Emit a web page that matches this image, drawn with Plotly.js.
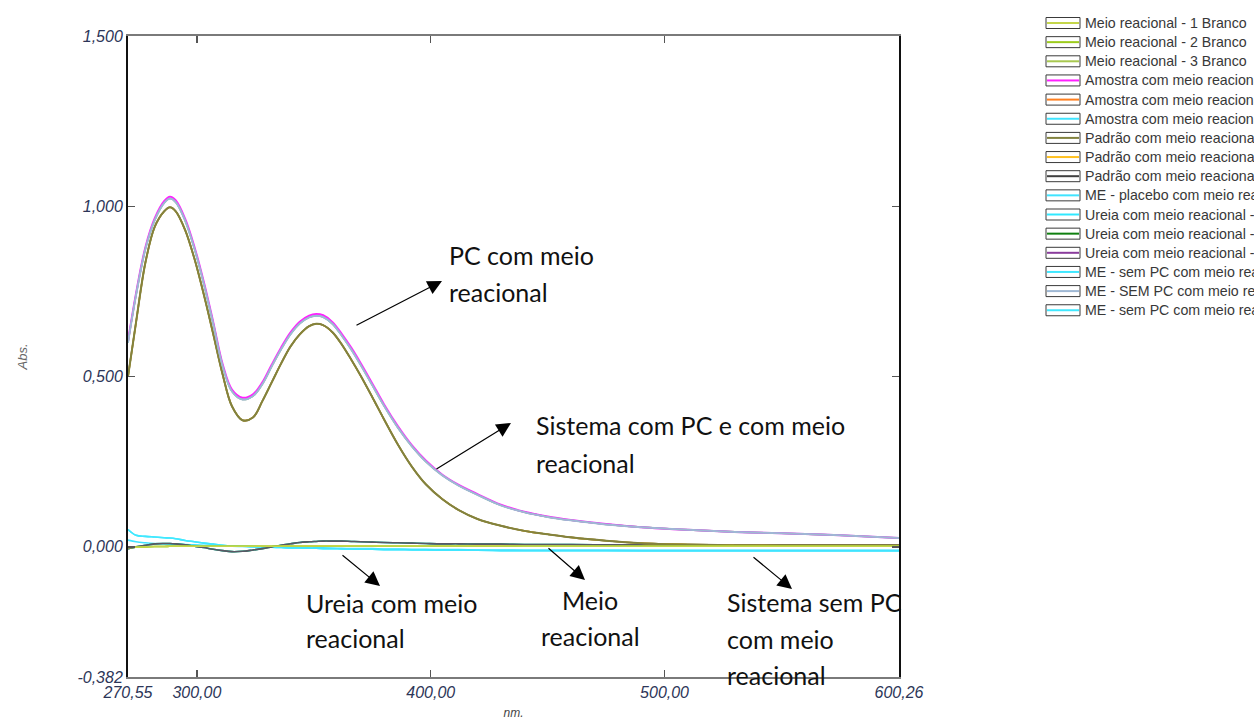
<!DOCTYPE html>
<html>
<head>
<meta charset="utf-8">
<script src="https://cdn.plot.ly/plotly-3.0.1.min.js"></script>
<style>
  html, body { margin: 0; padding: 0; background: #ffffff; overflow: hidden; }
  #chart { width: 1254px; height: 720px; }
</style>
</head>
<body>
<div id="chart"></div>
<script>
// Wavelength grid (nm)
const wavelength = [270.55, 274, 278, 282, 286, 288.5, 291, 295, 299, 303, 307, 311, 315, 319.5, 324, 328,
  332, 336, 340, 344, 348, 351, 354, 358, 362, 366, 370, 375, 380, 386, 392, 398, 405, 412, 420, 430,
  440, 450, 460, 475, 490, 510, 530, 550, 575, 600.26];

// Absorbance readings
const amostra = [0.600, 0.740, 0.875, 0.960, 1.010, 1.023, 1.012, 0.958, 0.875, 0.772, 0.655, 0.532, 0.457,
  0.433, 0.443, 0.478, 0.530, 0.580, 0.624, 0.656, 0.674, 0.679, 0.675, 0.655, 0.620, 0.580, 0.535, 0.475,
  0.415, 0.350, 0.295, 0.250, 0.210, 0.180, 0.153, 0.122, 0.102, 0.088, 0.078, 0.066, 0.058, 0.050, 0.044,
  0.040, 0.034, 0.026];
const amostraTopo = [0.604, 0.745, 0.880, 0.965, 1.015, 1.028, 1.017, 0.963, 0.880, 0.777, 0.660, 0.537, 0.462,
  0.438, 0.448, 0.483, 0.535, 0.585, 0.629, 0.661, 0.679, 0.684, 0.680, 0.660, 0.625, 0.585, 0.540, 0.480,
  0.419, 0.354, 0.298, 0.253, 0.212, 0.182, 0.155, 0.124, 0.103, 0.089, 0.079, 0.067, 0.058, 0.050, 0.044,
  0.040, 0.034, 0.026];
const padrao = [0.500, 0.660, 0.835, 0.940, 0.985, 0.997, 0.985, 0.930, 0.845, 0.740, 0.625, 0.507, 0.413,
  0.372, 0.380, 0.428, 0.483, 0.538, 0.588, 0.624, 0.648, 0.655, 0.651, 0.630, 0.594, 0.550, 0.503, 0.440,
  0.375, 0.300, 0.235, 0.183, 0.140, 0.108, 0.082, 0.062, 0.047, 0.037, 0.028, 0.018, 0.011, 0.007, 0.005,
  0.004, 0.004, 0.004];
const meio = [-0.002, -0.001, 0.000, 0.001, 0.001, 0.002, 0.002, 0.002, 0.002, 0.002, 0.002, 0.002, 0.002,
  0.002, 0.002, 0.002, 0.002, 0.002, 0.003, 0.003, 0.003, 0.003, 0.003, 0.003, 0.003, 0.003, 0.003, 0.003,
  0.003, 0.003, 0.003, 0.003, 0.003, 0.003, 0.003, 0.003, 0.002, 0.002, 0.002, 0.002, 0.002, 0.002, 0.002,
  0.002, 0.002, 0.002];
const ureia = [-0.005, 0.000, 0.005, 0.009, 0.010, 0.010, 0.009, 0.006, 0.002, -0.002, -0.007, -0.011, -0.014,
  -0.013, -0.009, -0.005, 0.000, 0.005, 0.009, 0.013, 0.015, 0.016, 0.017, 0.017, 0.017, 0.016, 0.015, 0.014,
  0.013, 0.012, 0.011, 0.010, 0.009, 0.009, 0.008, 0.008, 0.007, 0.007, 0.007, 0.006, 0.006, 0.006, 0.006,
  0.006, 0.006, 0.006];
const placebo = [0.020, 0.015, 0.012, 0.010, 0.009, 0.008, 0.008, 0.007, 0.006, 0.005, 0.004, 0.003, 0.002,
  0.001, 0.000, 0.000, -0.001, -0.001, -0.002, -0.002, -0.003, -0.003, -0.003, -0.004, -0.004, -0.005, -0.005,
  -0.005, -0.006, -0.006, -0.007, -0.007, -0.008, -0.008, -0.009, -0.009, -0.010, -0.010, -0.010, -0.010,
  -0.011, -0.011, -0.011, -0.011, -0.011, -0.011];
const semPC = [0.051, 0.034, 0.031, 0.029, 0.027, 0.026, 0.024, 0.019, 0.015, 0.011, 0.008, 0.005, 0.003,
  0.002, 0.001, 0.000, -0.001, -0.002, -0.003, -0.003, -0.004, -0.004, -0.005, -0.005, -0.006, -0.006, -0.007,
  -0.007, -0.008, -0.008, -0.009, -0.009, -0.010, -0.010, -0.010, -0.011, -0.011, -0.011, -0.011, -0.011,
  -0.011, -0.011, -0.011, -0.011, -0.011, -0.011];

const seriesNames = [
  'Meio reacional - 1 Branco',
  'Meio reacional - 2 Branco',
  'Meio reacional - 3 Branco',
  'Amostra com meio reacional - 1',
  'Amostra com meio reacional - 2',
  'Amostra com meio reacional - 3',
  'Padrão com meio reacional - 1',
  'Padrão com meio reacional - 2',
  'Padrão com meio reacional - 3',
  'ME - placebo com meio reacional',
  'Ureia com meio reacional - 1',
  'Ureia com meio reacional - 2',
  'Ureia com meio reacional - 3',
  'ME - sem PC com meio reacional - 1',
  'ME - SEM PC com meio reacional - 2',
  'ME - sem PC com meio reacional - 3'
];
const seriesColors = [
  '#c4d64a', '#9ccc1c', '#a8c850',
  '#ff20ff', '#ff8020', '#40e4ff',
  '#82823e', '#ffc020', '#404040',
  '#40e4ff',
  '#30e8ff', '#108010', '#8a3c9c',
  '#40e8ff', '#9fb8d4', '#40e8ff'
];
const seriesValues = [
  meio, meio, meio,
  amostraTopo, amostra, amostra,
  padrao, padrao, padrao,
  placebo,
  ureia, ureia, ureia,
  semPC, amostra, semPC
];

const yTickVals = [-0.382, 0, 0.5, 1.0, 1.5];
const yTickText = ['-0,382', '0,000', '0,500', '1,000', '1,500'];
const xTickVals = [270.55, 300, 400, 500, 600.26];
const xTickText = ['270,55', '300,00', '400,00', '500,00', '600,26'];

// Plot-area frame in pixels
const L = 128, R = 899, T = 36, B = 677, W = 1254, H = 720;
const px = x => (x - L) / (R - L);
const py = y => 1 - (y - T) / (B - T);

// Stacking order of the spectra (last one drawn on top)
const drawOrder = [13, 15, 9, 10, 11, 12, 8, 7, 6, 4, 5, 3, 14, 2, 1, 0];
const traces = drawOrder.map(i => ({
  x: wavelength, y: seriesValues[i], name: seriesNames[i],
  type: 'scatter', mode: 'lines', showlegend: false, hoverinfo: 'skip',
  opacity: i === 12 ? 0.6 : 1,
  line: { color: seriesColors[i], width: (i === 3 || i === 14 || i === 6) ? 2 : 1.6, shape: 'spline', smoothing: 1 }
}));

const shapes = [];
const annotations = [];

// Legend: boxed line sample + label per series
const legTop = 23, legStep = 19.15, boxL = 1046, boxR = 1080, boxH = 11;
seriesNames.forEach((nm, i) => {
  const yc = legTop + i * legStep;
  shapes.push({ type: 'rect', xref: 'paper', yref: 'paper',
    x0: px(boxL), x1: px(boxR), y0: py(yc - boxH / 2), y1: py(yc + boxH / 2),
    line: { color: '#3a3a3a', width: 1 }, fillcolor: '#ffffff' });
  shapes.push({ type: 'line', xref: 'paper', yref: 'paper',
    x0: px(boxL + 1), x1: px(boxR - 1), y0: py(yc), y1: py(yc),
    line: { color: seriesColors[i], width: 2 } });
  annotations.push({ xref: 'paper', yref: 'paper', x: px(boxR + 3), y: py(yc),
    xanchor: 'left', yanchor: 'middle', showarrow: false, text: nm,
    font: { family: 'Liberation Sans, Arial, sans-serif', size: 14.2, color: '#383838' } });
});

// Callout labels
const calloutFont = { family: 'Lato, Calibri, sans-serif', size: 25, color: '#111111' };
const labels = [
  ['PC com meio', 447, 255, 'left'], ['reacional', 447, 292, 'left'],
  ['Sistema com PC e com meio', 534, 425, 'left'], ['reacional', 534, 463, 'left'],
  ['Ureia com meio', 304, 603, 'left'], ['reacional', 304, 638, 'left'],
  ['Meio', 590, 600, 'center'], ['reacional', 590, 636, 'center'],
  ['Sistema sem PC', 725, 602, 'left'], ['com meio', 725, 639, 'left'], ['reacional', 725, 675, 'left']
];
labels.forEach(([t, x, y, a]) => {
  annotations.push({ xref: 'paper', yref: 'paper', x: px(x), y: py(y), xanchor: a, yanchor: 'middle',
    showarrow: false, text: t, font: calloutFont });
});

// Arrows: [tail x, tail y, head x, head y]
const arrows = [
  [355, 326, 442, 281],
  [435, 470, 511, 423],
  [341, 554, 380, 586],
  [547, 547, 585, 580],
  [752, 556, 792, 589]
];
arrows.forEach(([tx, ty, hx, hy]) => {
  annotations.push({ xref: 'paper', yref: 'paper', x: px(hx), y: py(hy),
    axref: 'pixel', ayref: 'pixel', ax: tx - hx, ay: ty - hy,
    text: '', showarrow: true, arrowhead: 2, arrowsize: 2.4, arrowwidth: 1.2, arrowcolor: '#000000' });
});

const tickFont = { family: 'Liberation Sans, Arial, sans-serif', size: 16, color: '#2d3658', style: 'italic' };

const layout = {
  width: W, height: H,
  paper_bgcolor: '#ffffff', plot_bgcolor: '#ffffff',
  margin: { l: L, r: W - R, t: T, b: H - B, autoexpand: false },
  showlegend: false,
  xaxis: {
    range: [270.55, 600.26], tickmode: 'array', tickvals: xTickVals, ticktext: xTickText,
    ticks: 'inside', ticklen: 7, tickwidth: 1.5, tickcolor: '#555555',
    showline: true, linecolor: '#7a7a7a', linewidth: 2, mirror: 'ticks',
    showgrid: false, zeroline: false, tickfont: tickFont,
    title: { text: 'nm.', standoff: 8, font: { family: 'Liberation Sans, Arial, sans-serif', size: 12, color: '#444444', style: 'italic' } }
  },
  yaxis: {
    range: [-0.382, 1.5], tickmode: 'array', tickvals: yTickVals, ticktext: yTickText,
    ticks: 'inside', ticklen: 7, tickwidth: 1.5, tickcolor: '#555555',
    showline: true, linecolor: '#111111', linewidth: 2, mirror: 'ticks',
    showgrid: false, zeroline: false, tickfont: tickFont,
    title: { text: 'Abs.', standoff: 47, font: { family: 'Liberation Sans, Arial, sans-serif', size: 13, color: '#666666', style: 'italic' } }
  },
  shapes: shapes,
  annotations: annotations
};

Plotly.newPlot('chart', traces, layout, { staticPlot: true, displayModeBar: false });
</script>
</body>
</html>
